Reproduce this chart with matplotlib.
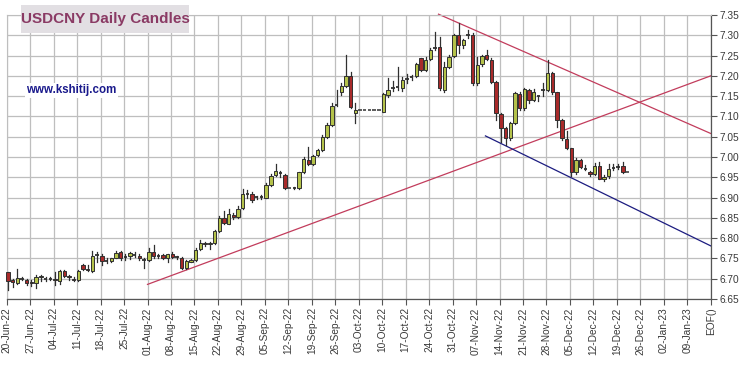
import matplotlib
matplotlib.use("Agg")
import matplotlib.pyplot as plt
from matplotlib.patches import Rectangle
import numpy as np

# ---------------- data ----------------
opens = [6.717, 6.697, 6.690, 6.699, 6.697, 6.693, 6.690, 6.703, 6.701, 6.700,
         6.700, 6.695, 6.719, 6.706, 6.700, 6.697, 6.734, 6.724, 6.718, 6.757,
         6.757, 6.745, 6.744, 6.751, 6.766, 6.752, 6.755, 6.760, 6.757, 6.748,
         6.746, 6.767, 6.757, 6.758, 6.750, 6.760, 6.754, 6.752, 6.726, 6.742,
         6.746, 6.774, 6.788, 6.785, 6.787, 6.818, 6.850, 6.836, 6.858, 6.852,
         6.874, 6.907, 6.908, 6.900, 6.901, 6.900, 6.932, 6.955, 6.962, 6.955,
         6.923, 6.923, 6.923, 6.963, 6.993, 6.982, 7.005, 7.018, 7.049, 7.078,
         7.128, 7.159, 7.176, 7.200, 7.108, 7.116, 7.116, 7.116, 7.116, 7.116,
         7.112, 7.153, 7.170, 7.172, 7.171, 7.192, 7.197, 7.200, 7.243, 7.215,
         7.241, 7.268, 7.270, 7.165, 7.223, 7.250, 7.301, 7.276, 7.300, 7.301,
         7.182, 7.228, 7.252, 7.239, 7.186, 7.106, 7.071, 7.046, 7.083, 7.156,
         7.120, 7.165, 7.141, 7.150, 7.165, 7.166, 7.208, 7.159, 7.092, 7.044,
         7.021, 6.962, 6.993, 6.970, 6.964, 6.958, 6.978, 6.946, 6.952, 6.972,
         6.975, 6.978, 6.964]
highs = [6.717, 6.700, 6.725, 6.703, 6.699, 6.696, 6.708, 6.710, 6.705, 6.704,
         6.717, 6.721, 6.722, 6.708, 6.703, 6.721, 6.736, 6.733, 6.768, 6.767,
         6.762, 6.750, 6.752, 6.768, 6.769, 6.760, 6.767, 6.766, 6.760, 6.752,
         6.775, 6.783, 6.760, 6.762, 6.762, 6.765, 6.756, 6.754, 6.746, 6.748,
         6.775, 6.795, 6.791, 6.791, 6.820, 6.854, 6.866, 6.871, 6.862, 6.878,
         6.922, 6.919, 6.913, 6.903, 6.906, 6.936, 6.958, 6.982, 6.966, 6.958,
         6.923, 6.925, 6.964, 7.000, 7.024, 7.005, 7.020, 7.053, 7.083, 7.133,
         7.165, 7.182, 7.252, 7.210, 7.133, 7.116, 7.116, 7.116, 7.116, 7.116,
         7.157, 7.194, 7.187, 7.222, 7.198, 7.204, 7.202, 7.231, 7.245, 7.247,
         7.268, 7.309, 7.297, 7.235, 7.251, 7.303, 7.330, 7.292, 7.313, 7.305,
         7.247, 7.252, 7.264, 7.243, 7.187, 7.108, 7.074, 7.087, 7.161, 7.159,
         7.171, 7.167, 7.167, 7.151, 7.182, 7.239, 7.209, 7.160, 7.093, 7.063,
         7.022, 6.997, 6.995, 6.980, 6.966, 6.985, 6.987, 6.955, 6.982, 6.982,
         6.982, 6.988, 6.964]
lows = [6.672, 6.680, 6.688, 6.696, 6.684, 6.682, 6.676, 6.695, 6.694, 6.696,
        6.685, 6.686, 6.704, 6.698, 6.694, 6.695, 6.722, 6.718, 6.716, 6.742,
        6.734, 6.739, 6.742, 6.750, 6.746, 6.746, 6.748, 6.754, 6.745, 6.726,
        6.743, 6.750, 6.752, 6.748, 6.740, 6.750, 6.748, 6.724, 6.724, 6.740,
        6.743, 6.770, 6.781, 6.773, 6.785, 6.816, 6.834, 6.834, 6.848, 6.850,
        6.872, 6.898, 6.888, 6.897, 6.896, 6.898, 6.928, 6.952, 6.950, 6.920,
        6.923, 6.921, 6.920, 6.960, 6.980, 6.980, 7.003, 7.016, 7.046, 7.076,
        7.126, 7.154, 7.173, 7.122, 7.083, 7.116, 7.116, 7.116, 7.116, 7.116,
        7.110, 7.149, 7.163, 7.165, 7.162, 7.182, 7.190, 7.198, 7.212, 7.212,
        7.239, 7.264, 7.165, 7.161, 7.219, 7.247, 7.256, 7.268, 7.293, 7.178,
        7.178, 7.225, 7.238, 7.182, 7.092, 7.038, 7.030, 7.043, 7.081, 7.116,
        7.117, 7.132, 7.138, 7.137, 7.150, 7.162, 7.156, 7.074, 7.042, 7.020,
        6.952, 6.959, 6.973, 6.968, 6.953, 6.955, 6.945, 6.942, 6.948, 6.967,
        6.970, 6.960, 6.964]
closes = [6.694, 6.693, 6.702, 6.700, 6.690, 6.690, 6.703, 6.707, 6.700, 6.699,
          6.697, 6.719, 6.706, 6.703, 6.697, 6.719, 6.724, 6.721, 6.757, 6.758,
          6.743, 6.744, 6.750, 6.764, 6.751, 6.754, 6.763, 6.759, 6.750, 6.746,
          6.767, 6.755, 6.757, 6.752, 6.760, 6.754, 6.753, 6.726, 6.744, 6.746,
          6.772, 6.789, 6.785, 6.788, 6.818, 6.850, 6.837, 6.860, 6.852, 6.872,
          6.908, 6.909, 6.894, 6.901, 6.902, 6.931, 6.952, 6.965, 6.960, 6.923,
          6.923, 6.923, 6.962, 6.996, 6.983, 7.003, 7.017, 7.049, 7.079, 7.126,
          7.130, 7.174, 7.200, 7.124, 7.115, 7.116, 7.116, 7.116, 7.116, 7.116,
          7.155, 7.165, 7.172, 7.174, 7.190, 7.194, 7.198, 7.228, 7.215, 7.239,
          7.264, 7.270, 7.171, 7.223, 7.247, 7.301, 7.276, 7.288, 7.301, 7.182,
          7.227, 7.248, 7.241, 7.186, 7.108, 7.071, 7.046, 7.083, 7.157, 7.120,
          7.167, 7.141, 7.159, 7.149, 7.166, 7.208, 7.159, 7.092, 7.046, 7.022,
          6.962, 6.993, 6.975, 6.969, 6.958, 6.978, 6.945, 6.950, 6.970, 6.973,
          6.977, 6.962, 6.964]

tick_labels = ["20-Jun-22", "27-Jun-22", "04-Jul-22", "11-Jul-22", "18-Jul-22",
               "25-Jul-22", "01-Aug-22", "08-Aug-22", "15-Aug-22", "22-Aug-22",
               "29-Aug-22", "05-Sep-22", "12-Sep-22", "19-Sep-22", "26-Sep-22",
               "03-Oct-22", "10-Oct-22", "17-Oct-22", "24-Oct-22", "31-Oct-22",
               "07-Nov-22", "14-Nov-22", "21-Nov-22", "28-Nov-22", "05-Dec-22",
               "12-Dec-22", "19-Dec-22", "26-Dec-22", "02-Jan-23", "09-Jan-23",
               "EOF()"]
y_ticks = [6.65, 6.70, 6.75, 6.80, 6.85, 6.90, 6.95, 7.00, 7.05, 7.10,
           7.15, 7.20, 7.25, 7.30, 7.35]

# trend lines: (start trading-day index, start value, end index, end value)
up_line = (30, 6.686, 150, 7.200)
down_line = (92, 7.352, 150, 7.058)
support_line = (102, 7.052, 150, 6.781)

# ---------------- figure ----------------
W, H = 750, 366
fig = plt.figure(figsize=(W / 100, H / 100), dpi=100)
fig.patch.set_facecolor("white")
ax_l, ax_r, ax_t, ax_b = 6.7, 710.7, 15, 299
ax = fig.add_axes([ax_l / W, (H - ax_b) / H, (ax_r - ax_l) / W, (ax_b - ax_t) / H])
ax.set_xlim(0, 150)
ax.set_ylim(6.65, 7.35)

grid_c = "#bebebe"
ax.set_yticks(y_ticks)
ax.set_yticklabels([f"{v:.2f}" for v in y_ticks])
ax.yaxis.tick_right()
xt = list(range(0, 5 * (len(tick_labels) - 1), 5)) + [150]
ax.set_xticks(xt)
ax.set_xticklabels(tick_labels, rotation=90, fontfamily="Liberation Sans")
for lab in ax.get_yticklabels():
    lab.set_fontfamily("Liberation Sans")
ax.tick_params(axis="both", direction="out", length=4, width=0.8, color="#555555",
               labelsize=7.3, labelcolor="#3a3a3a", pad=2)
ax.grid(True, color=grid_c, linewidth=0.9)
ax.set_axisbelow(True)
for s in ["left", "top"]:
    ax.spines[s].set_color(grid_c)
for s in ["right", "bottom"]:
    ax.spines[s].set_color("#555555")
    ax.spines[s].set_linewidth(0.9)

# trend lines
for (x0, y0, x1, y1), c in [(up_line, "#c23c5c"), (down_line, "#c23c5c"),
                            (support_line, "#1c1c80")]:
    ax.plot([x0, x1], [y0, y1], color=c, lw=0.9, zorder=2, clip_on=False)

# candles
off = 0.28
bw = 0.72
green = "#b4c24a"
red = "#a82a2a"
edge = "#303030"
for i in range(len(opens)):
    o, h, l, c = opens[i], highs[i], lows[i], closes[i]
    x = i + off
    if h == l:
        ax.plot([x - 0.38, x + 0.38], [o, o], color=edge, lw=1.1, zorder=3,
                solid_capstyle="butt")
        continue
    ax.plot([x, x], [l, h], color=edge, lw=0.9, zorder=3)
    lo, hi = min(o, c), max(o, c)
    if hi - lo < 0.0025:
        ax.plot([x - bw / 2, x + bw / 2], [(o + c) / 2] * 2, color=edge, lw=1.3,
                zorder=4, solid_capstyle="butt")
        continue
    fc = green if c >= o else red
    ax.add_patch(Rectangle((x - bw / 2, lo), bw, hi - lo, facecolor=fc,
                           edgecolor=edge, lw=0.7, zorder=4, clip_on=False))

# title box
fig.patches.append(Rectangle((21 / W, 1 - 33 / H), (189 - 21) / W, 28 / H,
                             transform=fig.transFigure, facecolor="#e2dfe3",
                             edgecolor="none", zorder=5))
fig.text(105 / W, 1 - 19.5 / H, "USDCNY Daily Candles", ha="center", va="center",
         fontsize=11, fontweight="bold", color="#8a3a64",
         fontfamily="Liberation Sans", zorder=6)
fig.text(26.5 / W, 1 - 90.5 / H, "www.kshitij.com", ha="left", va="center",
         fontsize=8.3, fontweight="bold", color="#1a1a8c",
         fontfamily="Liberation Sans", zorder=6,
         bbox=dict(facecolor="white", edgecolor="none", pad=1.0))

fig.savefig("out.png", dpi=100)
